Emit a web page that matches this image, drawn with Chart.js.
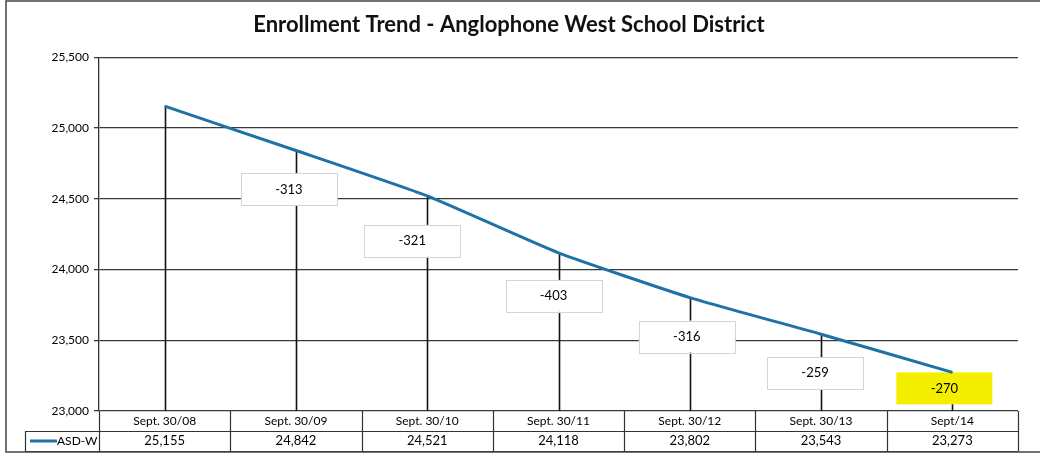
<!DOCTYPE html>
<html>
<head>
<meta charset="utf-8">
<script src="https://cdn.jsdelivr.net/npm/chart.js@4.4.1/dist/chart.umd.min.js"></script>
<style>
  html, body { margin: 0; padding: 0; background: #fff; }
  #wrap { width: 1040px; height: 458px; position: relative; }
</style>
</head>
<body>
<div id="wrap"><canvas id="chart"></canvas></div>
<script>
// Data
var categories = ['Sept. 30/08', 'Sept. 30/09', 'Sept. 30/10', 'Sept. 30/11', 'Sept. 30/12', 'Sept. 30/13', 'Sept/14'];
var enrollment = [25155, 24842, 24521, 24118, 23802, 23543, 23273];
var changes = [null, -313, -321, -403, -316, -259, -270];
var seriesName = 'ASD-W';
var yMin = 23000, yMax = 25500, yStep = 500;

var FONT = 'Lato, "Liberation Sans", sans-serif';
var LINE_BLUE = '#1f72a6';

function fmt(v) { return Number(v).toLocaleString('en-US'); }

// Drop lines from each point to the axis + the change boxes
var dropLabels = {
    id: 'dropLabels',
    beforeDatasetsDraw: function(chart, args, opts) {
        var ctx = chart.ctx, x = chart.scales.x, y = chart.scales.y;
        var bottom = chart.chartArea.bottom;
        ctx.save();
        ctx.strokeStyle = '#111';
        ctx.lineWidth = 1.6;
        enrollment.forEach(function(v, i) {
            var px = Math.round(x.getPixelForValue(i)) + 0.5;
            ctx.beginPath();
            ctx.moveTo(px, y.getPixelForValue(v));
            ctx.lineTo(px, bottom);
            ctx.stroke();
        });
        ctx.font = '13px ' + FONT;
        ctx.textAlign = 'center';
        ctx.textBaseline = 'middle';
        changes.forEach(function(c, i) {
            if (c === null) return;
            var off = opts.offsets[i];
            var cx = x.getPixelForValue(i) + off[0];
            var cy = y.getPixelForValue(enrollment[i]) + off[1];
            var w = 96, h = 32;
            var last = i === changes.length - 1;
            ctx.fillStyle = last ? '#f4ee00' : '#fff';
            ctx.fillRect(cx - w / 2, cy - h / 2, w, h);
            if (!last) {
                ctx.strokeStyle = '#d4d4d4';
                ctx.lineWidth = 1;
                ctx.strokeRect(Math.round(cx - w / 2) + 0.5, Math.round(cy - h / 2) + 0.5, w, h);
            }
            ctx.fillStyle = '#000';
            ctx.fillText(String(c), cx, cy);
        });
        ctx.restore();
    }
};

// Data table under the plot (categories row + values row with legend key)
var dataTable = {
    id: 'dataTable',
    afterDraw: function(chart) {
        var ctx = chart.ctx, x = chart.scales.x, area = chart.chartArea;
        var top = area.bottom, mid = top + 20, bot = mid + 20;
        var left = area.left, right = area.right, keyLeft = 25;
        var band = (right - left) / categories.length;
        ctx.save();
        ctx.strokeStyle = '#333';
        ctx.lineWidth = 1.2;
        ctx.beginPath();
        ctx.moveTo(keyLeft, mid + 0.5); ctx.lineTo(right, mid + 0.5);
        ctx.moveTo(keyLeft, bot + 0.5); ctx.lineTo(right, bot + 0.5);
        ctx.moveTo(keyLeft + 0.5, mid); ctx.lineTo(keyLeft + 0.5, bot);
        for (var k = 0; k <= categories.length; k++) {
            var ex = Math.round(left + k * band) + 0.5;
            ctx.moveTo(ex, top); ctx.lineTo(ex, bot);
        }
        ctx.stroke();

        ctx.fillStyle = '#000';
        ctx.textAlign = 'center';
        ctx.textBaseline = 'middle';
        ctx.font = '12px ' + FONT;
        categories.forEach(function(c, i) {
            ctx.fillText(c, x.getPixelForValue(i), top + 10);
        });
        ctx.font = '13px ' + FONT;
        enrollment.forEach(function(v, i) {
            ctx.fillText(fmt(v), x.getPixelForValue(i), mid + 10);
        });

        // legend key
        ctx.strokeStyle = LINE_BLUE;
        ctx.lineWidth = 3;
        ctx.beginPath();
        ctx.moveTo(30, mid + 10); ctx.lineTo(57, mid + 10);
        ctx.stroke();
        ctx.textAlign = 'left';
        ctx.font = '12px ' + FONT;
        ctx.fillText(seriesName, 57, mid + 10);

        // frame of the chart object
        ctx.strokeStyle = '#444';
        ctx.lineWidth = 1.5;
        ctx.beginPath();
        ctx.moveTo(1040, 1); ctx.lineTo(6, 1); ctx.lineTo(6, 452); ctx.lineTo(1040, 452);
        ctx.stroke();
        ctx.restore();
    }
};

new Chart(document.getElementById('chart'), {
    type: 'line',
    data: {
        labels: categories,
        datasets: [{
            label: seriesName,
            data: enrollment,
            borderColor: LINE_BLUE,
            borderWidth: 3,
            pointRadius: 0,
            tension: 0.15,
            fill: false
        }]
    },
    options: {
        responsive: true,
        maintainAspectRatio: false,
        animation: false,
        layout: { padding: { left: 0, right: 22, top: 0, bottom: 47 } },
        plugins: {
            legend: { display: false },
            tooltip: { enabled: false },
            title: {
                display: true,
                text: 'Enrollment Trend - Anglophone West School District',
                color: '#111',
                font: { family: FONT, size: 22, weight: 'bold', lineHeight: 1.2 },
                padding: { top: 12, bottom: 19 }
            },
            dropLabels: {
                offsets: [null, [-7, 39], [-15, 45], [-5, 43], [-3, 39], [-6, 39], [-8, 16]]
            }
        },
        scales: {
            x: {
                display: false,
                offset: true
            },
            y: {
                min: yMin,
                max: yMax,
                afterFit: function(scale) { scale.width = 99; },
                ticks: {
                    stepSize: yStep,
                    padding: 5,
                    color: '#000',
                    font: { family: FONT, size: 12 },
                    callback: function(v) { return fmt(v); }
                },
                grid: {
                    color: '#3a3a3a',
                    lineWidth: 1.3,
                    tickLength: 5
                },
                border: { display: true, color: '#333', width: 1.3 }
            }
        }
    },
    plugins: [dropLabels, dataTable]
});
</script>
</body>
</html>
